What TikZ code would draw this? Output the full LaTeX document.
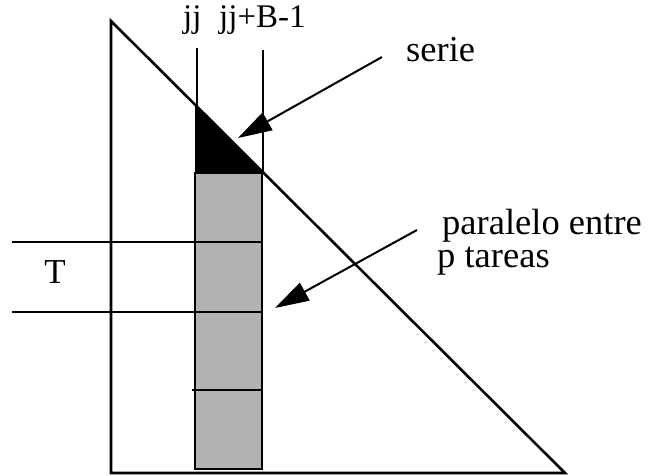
\documentclass[tikz,border=0pt]{standalone}
\usepackage{fontspec}
\setmainfont{Liberation Serif}
\usetikzlibrary{arrows.meta}
\begin{document}
\begin{tikzpicture}[x=1pt,y=-1pt,
  lbl/.style={inner sep=0pt, anchor=base west, font=\fontsize{36.5}{40}\selectfont},
  toplbl/.style={inner sep=0pt, anchor=base west, font=\fontsize{33}{36}\selectfont},
  thinline/.style={line width=1.3pt},
  thickline/.style={line width=2.6pt},
  ptr/.style={line width=2pt, -{Triangle[length=34pt,width=20pt]}}]
\useasboundingbox (0,0) rectangle (658,476);
% big triangle
\coordinate (A) at (111,21);
\coordinate (B) at (111,473);
\coordinate (C) at (565,473);
% column
\fill[black!30] (195,173) rectangle (262,469);
\fill (195,105) -- (195,173) -- (265,173) -- cycle;
\draw[thickline] (195,173) rectangle (262,469);
\draw[thickline] (A) -- (B) -- (C) -- cycle;
% column guide lines
\coordinate (jjtop) at (197,48);
\coordinate (jjbot) at (197,173);
\coordinate (jbtop) at (263,50);
\coordinate (jbbot) at (263,173);
\draw[thickline] (jjtop) -- (jjbot);
\draw[thickline] (jbtop) -- (jbbot);
% dividers
\coordinate (t1a) at (12,242);  \coordinate (t1b) at (195,242); \coordinate (t1c) at (262,242);
\coordinate (t2a) at (12,312);  \coordinate (t2b) at (195,312); \coordinate (t2c) at (262,312);
\coordinate (t3b) at (192,390); \coordinate (t3c) at (262,390);
\draw[thinline] (t1a) -- (t1b);
\draw[thinline] (t2a) -- (t2b);
\draw[thickline] (t1b) -- (t1c);
\draw[thickline] (t2b) -- (t2c);
\draw[thickline] (t3b) -- (t3c);
% labels
\node[toplbl] (jj) at (183,28) {jj};
\node[toplbl] (jjb) at (219,28) {jj+B-1};
\node[lbl] (serie) at (406,62) {serie};
\node[lbl] (par1) at (442,234) {paralelo entre};
\node[lbl] (par2) at (437,267) {p tareas};
\node[inner sep=0pt, anchor=base, font=\fontsize{35}{40}\selectfont] (T) at (55,283) {T};
% arrows
\coordinate (s1) at (382,57);
\coordinate (s2) at (238,138);
\coordinate (p1) at (417,230);
\coordinate (p2) at (275,308);
\draw[ptr] (s1) -- (s2);
\draw[ptr] (p1) -- (p2);
\end{tikzpicture}
\end{document}
